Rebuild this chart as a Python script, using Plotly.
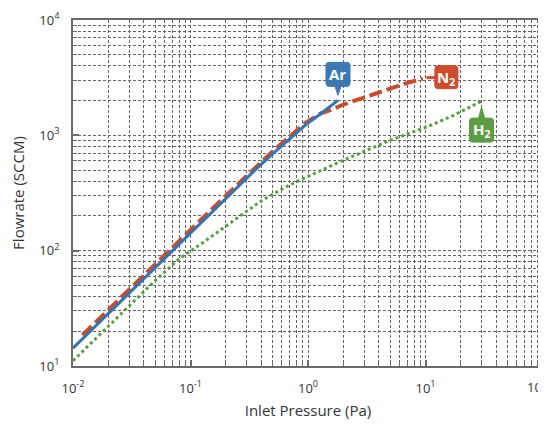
import numpy as np
import plotly.graph_objects as go

# ---- data ----
ar_x = [0.01, 0.02, 0.05, 0.1, 0.2, 0.35, 0.5, 0.7, 0.85, 1.0, 1.25, 1.5, 1.8]
ar_y = [14.3, 28.6, 71, 143, 285, 495, 690, 940, 1120, 1280, 1510, 1740, 2010]

n2_x = [0.012, 0.02, 0.05, 0.1, 0.2, 0.35, 0.5, 0.7, 0.95, 1.3, 1.45, 2.0, 3.0, 4.8, 7.0, 9.5]
n2_y = [18.5, 30.5, 75, 151, 300, 520, 725, 975, 1280, 1560, 1610, 1850, 2140, 2530, 2850, 3100]

h2_x = [0.01, 0.02, 0.05, 0.08, 0.13, 0.21, 0.41, 0.69, 1.0, 1.82, 3.0, 4.8, 7.0, 10.5, 17.6, 30]
h2_y = [11.1, 22, 55, 85, 119, 169, 275, 369, 441, 584, 725, 890, 1026, 1195, 1500, 1980]

x_tick_exps = [-2, -1, 0, 1, 2]
y_tick_exps = [1, 2, 3, 4]

C_AR = "#2f76b8"
C_N2 = "#d04a2a"
C_H2 = "#5a9e3c"
BOX_AR = "#3a79b6"
BOX_N2 = "#cf4b2c"
BOX_H2 = "#5b9d40"
AXC = "#6b6b6b"
GRIDC = "#666666"
TXT = "#333333"
FONT = "Open Sans"


def pow_label(e):
    return "10<sup>%d</sup>" % e if e >= 0 else "10<sup>-%d</sup>" % (-e)


fig = go.Figure()
fig.add_trace(go.Scatter(x=n2_x, y=n2_y, mode="lines", name="N2",
                         line=dict(color=C_N2, width=4, dash="13px,5px")))
fig.add_trace(go.Scatter(x=ar_x, y=ar_y, mode="lines", name="Ar",
                         line=dict(color=C_AR, width=3)))
fig.add_trace(go.Scatter(x=h2_x, y=h2_y, mode="lines", name="H2",
                         line=dict(color=C_H2, width=3, dash="dot")))

minor_x = [m * 10.0 ** e for e in range(-2, 2) for m in range(2, 10)]
minor_y = [m * 10.0 ** e for e in range(1, 4) for m in range(2, 10)]

axis_common = dict(
    type="log", showline=True, linecolor=AXC, linewidth=2, mirror=True,
    ticks="inside", ticklen=6, tickwidth=2, tickcolor=AXC,
    showgrid=True, gridcolor=GRIDC, gridwidth=1, griddash="3px,2px",
    zeroline=False,
    tickfont=dict(family=FONT, size=13, color=TXT),
)
minor_common = dict(tickmode="array", ticks="inside", ticklen=4, tickwidth=1,
                    tickcolor=AXC, showgrid=True, gridcolor=GRIDC, gridwidth=1,
                    griddash="3px,2px")

# the last x label (10^2) sits on the page edge and is cut there in the reference;
# it is drawn as a right-aligned annotation so it cannot widen the page
fig.update_xaxes(
    **axis_common,
    range=[-2, 2], tickmode="array",
    tickvals=[10.0 ** e for e in x_tick_exps],
    ticktext=[pow_label(e) for e in x_tick_exps[:-1]] + [""],
    ticklabelstandoff=9,
    minor=dict(tickvals=minor_x, **minor_common),
    title=dict(text="Inlet Pressure (Pa)", font=dict(family=FONT, size=15, color=TXT), standoff=12),
)
fig.update_yaxes(
    **axis_common,
    range=[1, 4], tickmode="array",
    tickvals=[10.0 ** e for e in y_tick_exps],
    ticktext=[pow_label(e) for e in y_tick_exps],
    ticklabelstandoff=9, ticklabeloverflow="allow",
    minor=dict(tickvals=minor_y, **minor_common),
    title=dict(text="Flowrate (SCCM)", font=dict(family=FONT, size=15, color=TXT), standoff=12),
)
fig.add_annotation(x=1, y=0, xref="paper", yref="paper", xanchor="right", yanchor="top",
                   xshift=1, yshift=-10, showarrow=False, text="10",
                   font=dict(family=FONT, size=13, color=TXT))


def rrect(x0, y0, x1, y1, r=3):
    return (f"M{x0+r},{y0} L{x1-r},{y0} Q{x1},{y0} {x1},{y0+r} L{x1},{y1-r} "
            f"Q{x1},{y1} {x1-r},{y1} L{x0+r},{y1} Q{x0},{y1} {x0},{y1-r} "
            f"L{x0},{y0+r} Q{x0},{y0} {x0+r},{y0} Z")


def label(xa, ya, box, pointer, color, text, dx, dy):
    fig.add_shape(type="path", xref="x", yref="y", xsizemode="pixel", ysizemode="pixel",
                  xanchor=xa, yanchor=ya, path=rrect(*box) + " " + pointer,
                  fillcolor=color, line=dict(color=color, width=1), layer="above")
    fig.add_annotation(x=np.log10(xa), y=np.log10(ya), xref="x", yref="y",
                       text=text, showarrow=False, xshift=dx, yshift=dy,
                       font=dict(family=FONT, size=15, color="white", weight="bold"))


# Ar label above end of Ar curve
label(ar_x[-1], ar_y[-1], (-12, 14, 12, 38), "M-3,14 L0,5 L3,14 Z", BOX_AR, "Ar", 0, 26)
# N2 label right of end of N2 curve
label(n2_x[-1], n2_y[-1], (12, -10, 35, 13), "M12,0 L4,0 L4,2 L12,2 Z", BOX_N2, "N<sub>2</sub>", 23, 1)
# H2 label below end of H2 curve
label(h2_x[-1], h2_y[-1], (-12, -41, 12, -17), "M-3,-17 L0,-6 L3,-17 Z", BOX_H2, "H<sub>2</sub>", 0, -29)

# the page body has an 8px margin; size the figure so the plot lands where the reference has it
fig.update_layout(
    width=538, height=412,
    margin=dict(l=65, r=1, t=5, b=54),
    paper_bgcolor="white", plot_bgcolor="white",
    showlegend=False,
    font=dict(family=FONT, color=TXT),
)

fig.write_html("out.html")
